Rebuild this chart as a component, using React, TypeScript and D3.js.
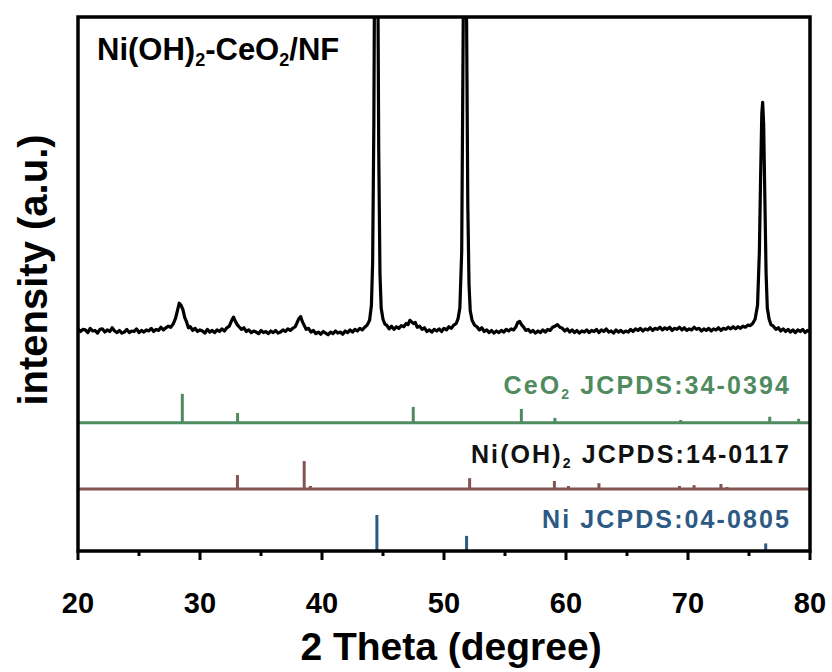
import React from 'react';
import * as d3 from 'd3';

const W = 832;
const H = 672;
const plot = { left: 78, right: 810, top: 17, bottom: 551 };

// 2θ axis
const xDomain: [number, number] = [20, 80];
const xMajorTicks = [20, 30, 40, 50, 60, 70, 80];
const xMinorTicks = [25, 35, 45, 55, 65, 75];

// Measured scan of Ni(OH)2-CeO2/NF: [2θ (deg), intensity (a.u.)]
const xrdScan: [number, number][] = [
  [20.0, 41.6], [20.2, 41.1], [20.4, 41.5], [20.6, 41.4], [20.8, 40.9], [21.0, 41.7],
  [21.2, 41.2], [21.4, 41.3], [21.6, 40.8], [21.8, 41.5], [22.0, 41.6], [22.2, 41.0],
  [22.4, 41.4], [22.6, 41.1], [22.8, 41.8], [23.0, 41.2], [23.2, 40.9], [23.4, 41.3],
  [23.6, 40.8], [23.8, 41.0], [24.0, 41.5], [24.2, 40.9], [24.4, 41.2], [24.6, 41.1],
  [24.8, 41.6], [25.0, 40.9], [25.2, 41.3], [25.4, 41.0], [25.6, 41.4], [25.8, 41.2],
  [26.0, 41.7], [26.2, 41.1], [26.4, 41.5], [26.6, 41.3], [26.8, 41.9], [27.0, 41.4],
  [27.2, 41.8], [27.4, 42.1], [27.6, 41.9], [27.8, 42.5], [28.0, 43.6], [28.15, 45.0],
  [28.3, 46.4], [28.45, 46.0], [28.6, 45.2], [28.75, 43.7], [28.9, 42.9], [29.05, 41.8],
  [29.2, 42.0], [29.4, 41.3], [29.6, 41.7], [29.8, 41.1], [30.0, 41.4], [30.2, 41.2],
  [30.4, 40.8], [30.6, 41.5], [30.8, 41.0], [31.0, 41.3], [31.2, 40.9], [31.4, 41.4],
  [31.6, 41.1], [31.8, 41.6], [32.0, 41.2], [32.2, 41.8], [32.4, 42.1], [32.6, 43.2],
  [32.75, 43.8], [32.9, 43.0], [33.05, 42.4], [33.2, 42.0], [33.4, 41.5], [33.6, 41.8],
  [33.8, 41.1], [34.0, 41.4], [34.2, 40.9], [34.4, 41.2], [34.6, 41.0], [34.8, 40.7],
  [35.0, 41.3], [35.2, 40.9], [35.4, 41.1], [35.6, 40.7], [35.8, 41.2], [36.0, 40.9],
  [36.2, 41.3], [36.4, 40.8], [36.6, 41.0], [36.8, 41.4], [37.0, 41.1], [37.2, 41.6],
  [37.4, 41.3], [37.6, 41.7], [37.8, 42.0], [37.95, 42.7], [38.1, 43.5], [38.25, 43.9],
  [38.4, 42.9], [38.55, 42.2], [38.7, 41.5], [38.9, 41.7], [39.1, 41.0], [39.3, 41.3],
  [39.5, 40.7], [39.7, 41.0], [39.9, 40.6], [40.1, 41.1], [40.3, 40.8], [40.5, 40.5],
  [40.7, 41.0], [40.9, 40.7], [41.1, 41.2], [41.3, 40.8], [41.5, 41.0], [41.7, 40.6],
  [41.9, 41.2], [42.1, 40.9], [42.3, 41.4], [42.5, 41.0], [42.7, 41.5], [42.9, 41.2],
  [43.1, 41.7], [43.3, 41.4], [43.5, 41.9], [43.7, 42.3], [43.9, 43.2], [44.05, 46.0],
  [44.15, 54.0], [44.25, 80.0], [44.35, 130.0], [44.45, 150.0], [44.55, 120.0], [44.65, 75.0],
  [44.75, 52.0], [44.85, 45.5], [45.0, 43.4], [45.15, 42.5], [45.3, 42.3], [45.5, 41.6],
  [45.7, 42.1], [45.9, 41.5], [46.1, 42.0], [46.3, 41.7], [46.5, 42.2], [46.7, 42.0],
  [46.9, 42.6], [47.05, 42.4], [47.2, 43.2], [47.35, 42.9], [47.5, 42.6], [47.65, 42.8],
  [47.8, 41.9], [48.0, 42.1], [48.2, 41.5], [48.4, 41.8], [48.6, 41.1], [48.8, 41.4],
  [49.0, 41.0], [49.2, 41.5], [49.4, 41.2], [49.6, 41.6], [49.8, 41.1], [50.0, 41.7],
  [50.2, 41.4], [50.4, 42.0], [50.6, 41.7], [50.8, 42.3], [51.0, 42.6], [51.15, 43.5],
  [51.3, 45.5], [51.45, 56.0], [51.55, 90.0], [51.65, 125.0], [51.75, 130.0], [51.85, 100.0],
  [51.95, 65.0], [52.05, 50.0], [52.15, 45.0], [52.3, 43.2], [52.5, 42.3], [52.7, 42.0],
  [52.9, 41.4], [53.1, 41.8], [53.3, 41.1], [53.5, 41.4], [53.7, 40.9], [53.9, 41.3],
  [54.1, 40.8], [54.3, 41.2], [54.5, 40.9], [54.7, 41.3], [54.9, 41.0], [55.1, 41.5],
  [55.3, 41.2], [55.5, 41.6], [55.7, 41.4], [55.9, 42.0], [56.05, 42.8], [56.2, 43.0],
  [56.35, 42.4], [56.5, 42.0], [56.7, 41.3], [56.9, 41.5], [57.1, 41.0], [57.3, 41.3],
  [57.5, 40.8], [57.7, 41.2], [57.9, 40.9], [58.1, 41.4], [58.3, 41.0], [58.5, 41.5],
  [58.7, 41.3], [58.9, 41.9], [59.1, 42.1], [59.3, 42.4], [59.5, 41.9], [59.7, 41.7],
  [59.9, 41.2], [60.1, 41.6], [60.3, 41.0], [60.5, 41.4], [60.7, 40.9], [60.9, 41.3],
  [61.1, 40.8], [61.3, 41.2], [61.5, 41.0], [61.7, 41.4], [61.9, 40.9], [62.1, 41.3],
  [62.3, 41.1], [62.5, 41.5], [62.7, 40.9], [62.9, 41.4], [63.1, 41.1], [63.3, 41.6],
  [63.5, 41.0], [63.7, 41.2], [63.9, 40.8], [64.1, 41.4], [64.3, 41.0], [64.5, 41.3],
  [64.7, 40.9], [64.9, 41.2], [65.1, 41.0], [65.3, 41.5], [65.5, 41.1], [65.7, 41.6],
  [65.9, 41.3], [66.1, 41.7], [66.3, 41.2], [66.5, 41.6], [66.7, 41.4], [66.9, 41.8],
  [67.1, 41.3], [67.3, 41.7], [67.5, 41.5], [67.7, 41.9], [67.9, 41.4], [68.1, 41.8],
  [68.3, 41.5], [68.5, 41.9], [68.7, 41.3], [68.9, 41.7], [69.1, 41.5], [69.3, 41.9],
  [69.5, 41.4], [69.7, 41.8], [69.9, 41.3], [70.1, 41.6], [70.3, 41.4], [70.5, 41.9],
  [70.7, 41.5], [70.9, 41.7], [71.1, 41.2], [71.3, 41.6], [71.5, 41.3], [71.7, 41.7],
  [71.9, 41.2], [72.1, 41.6], [72.3, 41.4], [72.5, 41.8], [72.7, 41.3], [72.9, 41.7],
  [73.1, 41.5], [73.3, 41.9], [73.5, 41.6], [73.7, 42.0], [73.9, 41.6], [74.1, 42.0],
  [74.3, 41.7], [74.5, 42.1], [74.7, 41.9], [74.9, 42.3], [75.1, 42.2], [75.3, 42.6],
  [75.5, 43.4], [75.7, 46.0], [75.85, 56.0], [75.95, 70.0], [76.05, 82.0], [76.12, 84.0],
  [76.2, 80.0], [76.3, 66.0], [76.4, 52.0], [76.5, 45.5], [76.65, 43.4], [76.8, 42.4],
  [77.0, 42.1], [77.2, 41.5], [77.4, 41.8], [77.6, 41.2], [77.8, 41.6], [78.0, 41.1],
  [78.2, 41.5], [78.4, 41.0], [78.6, 41.4], [78.8, 40.9], [79.0, 41.4], [79.2, 41.1],
  [79.4, 41.5], [79.6, 40.9], [79.8, 41.3], [80.0, 41.1],
];

// Standard patterns: peak positions (2θ) and relative intensities (I/I0)
const ceo2Positions = [28.55, 33.08, 47.48, 56.34, 59.09, 69.4, 76.7, 79.07];
const ceo2Intensities = [100, 34, 55, 48, 17, 10, 21, 14];

const nioh2Positions = [33.07, 38.54, 39.05, 52.1, 59.05, 60.2, 62.7, 69.3, 70.5, 72.7, 73.2];
const nioh2Intensities = [50, 100, 11, 39, 29, 11, 21, 11, 14, 18, 7];

const niPositions = [44.5, 51.85, 76.37];
const niIntensities = [100, 42, 21];

const FONT = "'Liberation Sans', Arial, Helvetica, sans-serif";

type Pattern = {
  key: string;
  positions: number[];
  intensities: number[];
  offset: number; // baseline, in plot units
  fullHeight: number; // plot units for I/I0 = 100
  color: string;
  textColor: string;
  name: string;
  sub: boolean;
  card: string;
  labelY: number;
};

const patterns: Pattern[] = [
  {
    key: 'ceo2', positions: ceo2Positions, intensities: ceo2Intensities,
    offset: 24, fullHeight: 5.43, color: '#4f8b5e', textColor: '#4f8b5e',
    name: 'CeO', sub: true, card: 'JCPDS:34-0394', labelY: 394,
  },
  {
    key: 'nioh2', positions: nioh2Positions, intensities: nioh2Intensities,
    offset: 11.6, fullHeight: 5.24, color: '#845353', textColor: '#111111',
    name: 'Ni(OH)', sub: true, card: 'JCPDS:14-0117', labelY: 463,
  },
  {
    key: 'ni', positions: niPositions, intensities: niIntensities,
    offset: 0, fullHeight: 6.74, color: '#2c5a84', textColor: '#2c5a84',
    name: 'Ni', sub: false, card: 'JCPDS:04-0805', labelY: 528,
  },
];

export default function App() {
  const x = d3.scaleLinear().domain(xDomain).range([plot.left, plot.right]);
  const y = d3.scaleLinear().domain([0, 100]).range([plot.bottom, plot.top]);

  const line = d3
    .line<[number, number]>()
    .x((d) => x(d[0]))
    .y((d) => y(d[1]));

  return (
    <svg
      width={W}
      height={H}
      viewBox={`0 0 ${W} ${H}`}
      style={{ position: 'absolute', left: 0, top: 0, background: '#fff' }}
      fontFamily={FONT}
    >
      <defs>
        <clipPath id="plot-area">
          <rect x={plot.left} y={plot.top} width={plot.right - plot.left} height={plot.bottom - plot.top} />
        </clipPath>
      </defs>
      <rect x={0} y={0} width={W} height={H} fill="#fff" />

      {/* standard reference patterns */}
      {patterns.map((p) => (
        <g key={p.key}>
          {p.offset > 0 && (
            <line
              x1={x(xDomain[0])}
              x2={x(xDomain[1])}
              y1={y(p.offset)}
              y2={y(p.offset)}
              stroke={p.color}
              strokeWidth={3}
            />
          )}
          {p.positions.map((pos, i) => (
            <line
              key={i}
              x1={x(pos)}
              x2={x(pos)}
              y1={y(p.offset)}
              y2={y(p.offset + (p.intensities[i] / 100) * p.fullHeight)}
              stroke={p.color}
              strokeWidth={3}
            />
          ))}
          <text
            x={791}
            y={p.labelY}
            textAnchor="end"
            fontSize={25}
            fontWeight="bold"
            letterSpacing={2.1}
            fill={p.textColor}
          >
            {p.name}
            {p.sub && (
              <tspan fontSize={14} dy={5}>2</tspan>
            )}
            <tspan dy={p.sub ? -5 : 0}>{' ' + p.card}</tspan>
          </text>
        </g>
      ))}

      {/* measured pattern */}
      <path
        d={line(xrdScan) ?? ''}
        fill="none"
        stroke="#000"
        strokeWidth={3.2}
        strokeLinejoin="round"
        clipPath="url(#plot-area)"
      />

      {/* frame */}
      <rect
        x={plot.left}
        y={plot.top}
        width={plot.right - plot.left}
        height={plot.bottom - plot.top}
        fill="none"
        stroke="#000"
        strokeWidth={3.5}
      />

      {/* x ticks */}
      {xMajorTicks.map((t) => (
        <g key={'M' + t}>
          <line x1={x(t)} x2={x(t)} y1={plot.bottom} y2={plot.bottom + 9} stroke="#000" strokeWidth={3} />
          <text x={x(t)} y={613} textAnchor="middle" fontSize={29} fontWeight="bold" fill="#000">
            {t}
          </text>
        </g>
      ))}
      {xMinorTicks.map((t) => (
        <line key={'m' + t} x1={x(t)} x2={x(t)} y1={plot.bottom} y2={plot.bottom + 5} stroke="#000" strokeWidth={3} />
      ))}

      {/* axis titles */}
      <text x={(plot.left + plot.right) / 2 + 7} y={660} textAnchor="middle" fontSize={39} fontWeight="bold" fill="#000">
        2 Theta (degree)
      </text>
      <text
        transform={`translate(47, 270) rotate(-90)`}
        textAnchor="middle"
        fontSize={40}
        fontWeight="bold"
        fill="#000"
      >
        intensity (a.u.)
      </text>

      {/* sample name */}
      <text x={97} y={60} fontSize={31} fontWeight="bold" fill="#000">
        Ni(OH)<tspan fontSize={18} dy={6}>2</tspan>
        <tspan dy={-6}>-CeO</tspan>
        <tspan fontSize={18} dy={6}>2</tspan>
        <tspan dy={-6}>/NF</tspan>
      </text>
    </svg>
  );
}
